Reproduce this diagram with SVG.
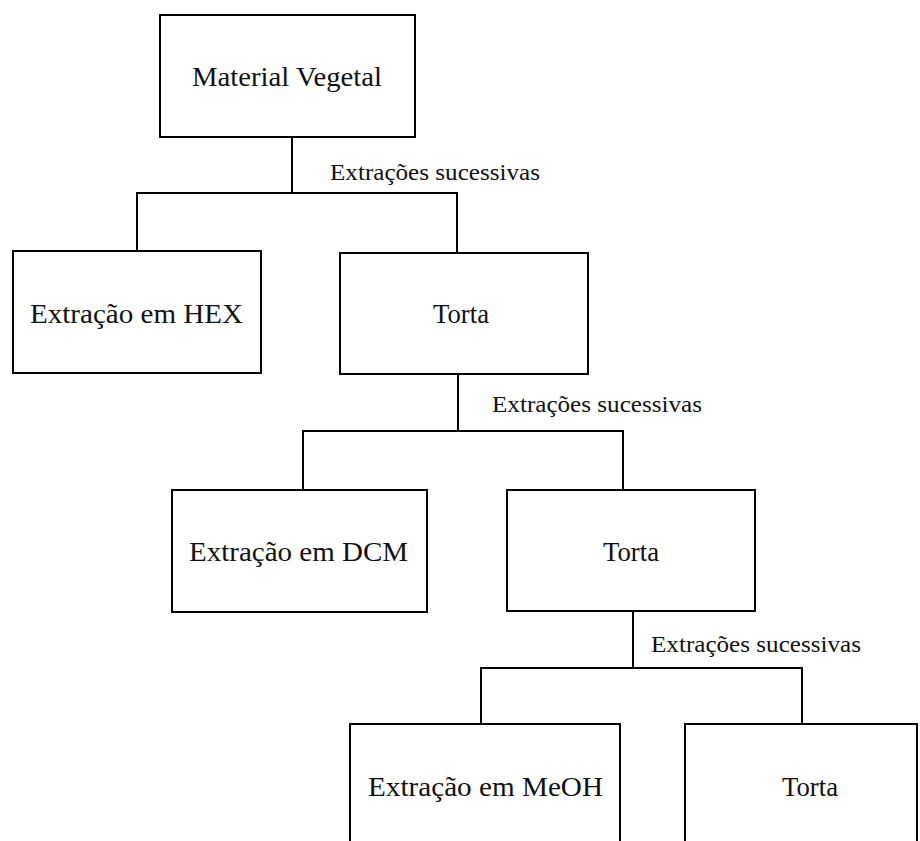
<svg xmlns="http://www.w3.org/2000/svg" width="920" height="841" viewBox="0 0 920 841">
<style>
.box{fill:#fff;stroke:#000;stroke-width:2}
.t{font-family:"Liberation Serif","Times New Roman",serif;font-size:27px;fill:#111}
.l{font-family:"Liberation Serif","Times New Roman",serif;font-size:23px;fill:#111}
.c{fill:none;stroke:#000;stroke-width:2}
</style>
<rect width="920" height="841" fill="#fff"/>
<g id="connectors">
<path class="c" d="M292,137V193M137,251V193H457V253"/>
<path class="c" d="M458,374V431M303,490V431H623V490"/>
<path class="c" d="M633,611V668M481,724V668H802V724"/>
<text class="l" x="330" y="180" textLength="210" lengthAdjust="spacingAndGlyphs">Extrações sucessivas</text>
<text class="l" x="492" y="412" textLength="210" lengthAdjust="spacingAndGlyphs">Extrações sucessivas</text>
<text class="l" x="651" y="652" textLength="210" lengthAdjust="spacingAndGlyphs">Extrações sucessivas</text>
</g>
<g id="material">
<rect class="box" x="160" y="15" width="255" height="122"/>
<text class="t" x="192" y="86" textLength="190" lengthAdjust="spacingAndGlyphs">Material Vegetal</text>
</g>
<g id="hex">
<rect class="box" x="13" y="251" width="248" height="122"/>
<text class="t" x="30" y="323" textLength="213" lengthAdjust="spacingAndGlyphs">Extração em HEX</text>
</g>
<g id="torta1">
<rect class="box" x="340" y="253" width="248" height="121"/>
<text class="t" x="433" y="323" textLength="56" lengthAdjust="spacingAndGlyphs">Torta</text>
</g>
<g id="dcm">
<rect class="box" x="172" y="490" width="255" height="122"/>
<text class="t" x="189" y="561" textLength="219" lengthAdjust="spacingAndGlyphs">Extração em DCM</text>
</g>
<g id="torta2">
<rect class="box" x="507" y="490" width="248" height="121"/>
<text class="t" x="603" y="561" textLength="56" lengthAdjust="spacingAndGlyphs">Torta</text>
</g>
<g id="meoh">
<rect class="box" x="350" y="724" width="270" height="130"/>
<text class="t" x="368" y="796" textLength="235" lengthAdjust="spacingAndGlyphs">Extração em MeOH</text>
</g>
<g id="torta3">
<rect class="box" x="685" y="724" width="232" height="130"/>
<text class="t" x="782" y="796" textLength="56" lengthAdjust="spacingAndGlyphs">Torta</text>
</g>
</svg>
